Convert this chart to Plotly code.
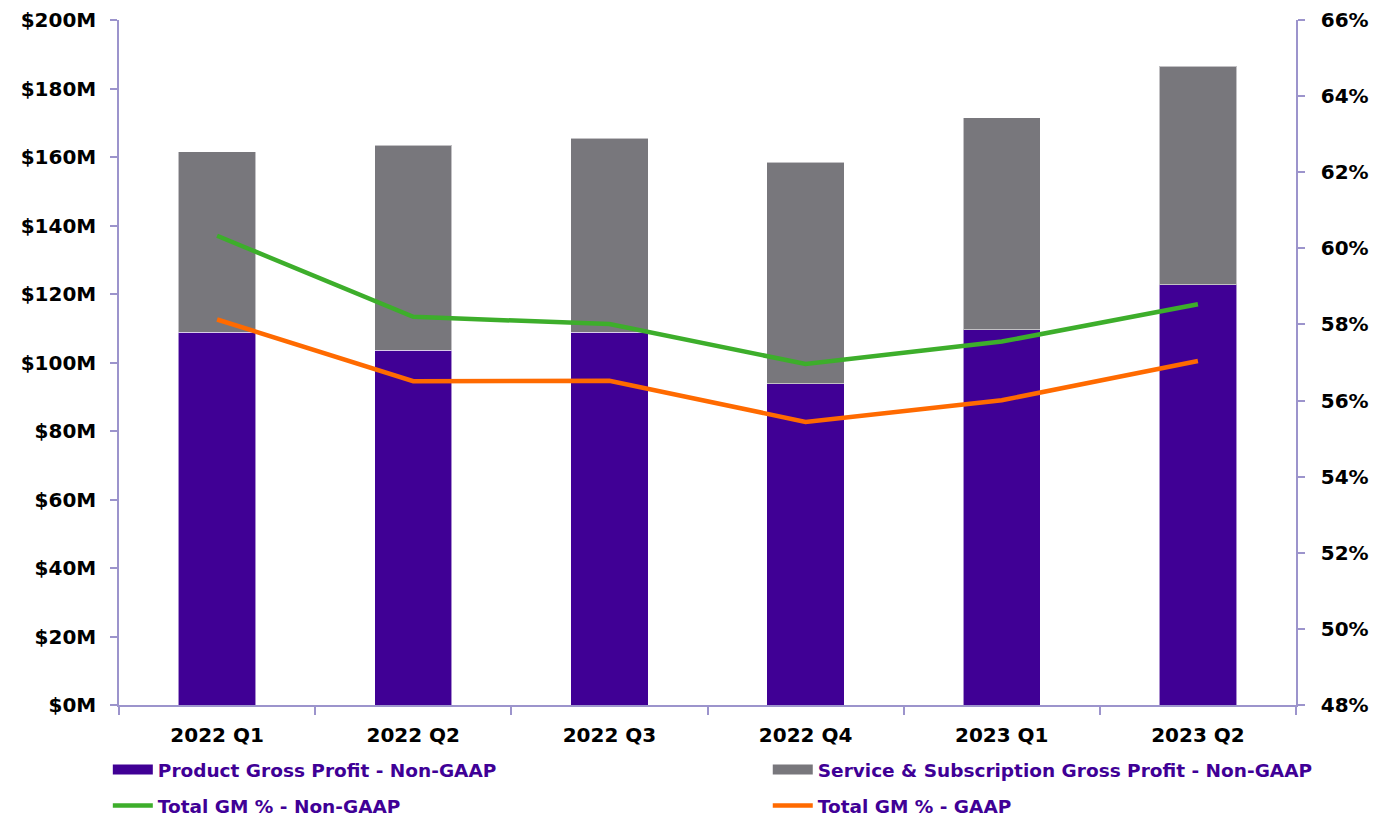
import plotly.graph_objects as go

quarters = ["2022 Q1", "2022 Q2", "2022 Q3", "2022 Q4", "2023 Q1", "2023 Q2"]
product_gp = [108.9, 103.6, 108.9, 93.8, 109.6, 122.7]
service_gp = [52.6, 59.8, 56.6, 64.7, 61.8, 63.8]
gm_non_gaap = [60.33, 58.20, 58.01, 56.96, 57.55, 58.53]
gm_gaap = [58.13, 56.51, 56.52, 55.44, 56.01, 57.04]

PURPLE = "#400095"
GRAY = "#78777C"
GREEN = "#3DAE2B"
ORANGE = "#FF6A00"
AXIS = "#9C94CC"
LEG_TXT = "#3F0096"
FONT = "DejaVu Sans"

fig = go.Figure()
edge = dict(color="rgba(255,255,255,0.55)", width=1)
fig.add_trace(go.Bar(x=quarters, y=product_gp, marker=dict(color=PURPLE, line=edge),
                     name="Product Gross Profit - Non-GAAP", showlegend=False))
fig.add_trace(go.Bar(x=quarters, y=service_gp, marker=dict(color=GRAY, line=edge),
                     name="Service & Subscription Gross Profit - Non-GAAP", showlegend=False))
fig.add_trace(go.Scatter(x=quarters, y=gm_non_gaap, yaxis="y2", mode="lines",
                         line=dict(color=GREEN, width=4.5), name="Total GM % - Non-GAAP",
                         showlegend=False))
fig.add_trace(go.Scatter(x=quarters, y=gm_gaap, yaxis="y2", mode="lines",
                         line=dict(color=ORANGE, width=4.5), name="Total GM % - GAAP",
                         showlegend=False))

# legend-only entries, one legend box per item
legend_items = [
    ("Product Gross Profit - Non-GAAP", PURPLE, 10, "legend"),
    ("Service & Subscription Gross Profit - Non-GAAP", GRAY, 10, "legend2"),
    ("Total GM % - Non-GAAP", GREEN, 4.5, "legend3"),
    ("Total GM % - GAAP", ORANGE, 4.5, "legend4"),
]
for name, color, w, leg in legend_items:
    fig.add_trace(go.Scatter(x=[None], y=[None], mode="lines", line=dict(color=color, width=w),
                             name=name, legend=leg))

tickfont = dict(family=FONT, size=20, color="#000000", weight="bold")
legfont = dict(family=FONT, size=18.5, color=LEG_TXT, weight="bold")
leg_common = dict(orientation="h", itemwidth=40, font=legfont, bgcolor="rgba(0,0,0,0)",
                  xanchor="left", yanchor="middle")
x_col1, x_col2 = -0.0095, 0.5512
y_row1, y_row2 = -0.0949, -0.1474

fig.update_layout(
    width=1379, height=818,
    margin=dict(l=119, r=83, t=20, b=113, autoexpand=False),
    paper_bgcolor="white", plot_bgcolor="white",
    barmode="stack", bargap=0.605,
    font=dict(family=FONT),
    xaxis=dict(type="category", showline=True, linecolor=AXIS, linewidth=1.5,
               ticks="outside", tickson="boundaries", ticklen=8, tickcolor=AXIS,
               tickwidth=1.5, tickfont=tickfont, showgrid=False, ticklabelstandoff=11),
    yaxis=dict(range=[0, 200], dtick=20, tickprefix="$", ticksuffix="M",
               showline=True, linecolor=AXIS, linewidth=1.5, ticks="outside",
               ticklen=7, tickcolor=AXIS, tickwidth=1.5, tickfont=tickfont,
               showgrid=False, zeroline=False, ticklabelstandoff=10),
    yaxis2=dict(range=[48, 66], dtick=2, ticksuffix="%", overlaying="y", side="right",
                showline=True, linecolor=AXIS, linewidth=1.5, ticks="outside",
                ticklen=7, tickcolor=AXIS, tickwidth=1.5, tickfont=tickfont,
                showgrid=False, zeroline=False, ticklabelstandoff=12),
    legend=dict(x=x_col1, y=y_row1, **leg_common),
    legend2=dict(x=x_col2, y=y_row1, **leg_common),
    legend3=dict(x=x_col1, y=y_row2, **leg_common),
    legend4=dict(x=x_col2, y=y_row2, **leg_common),
)

fig.write_html("out.html")
